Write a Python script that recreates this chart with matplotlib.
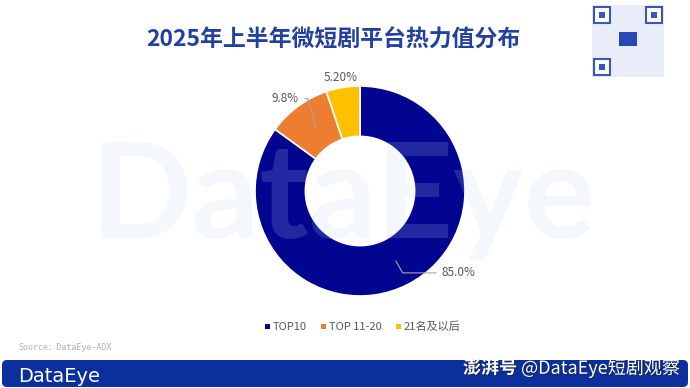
import numpy as np
import matplotlib.pyplot as plt
import matplotlib.patheffects as pe
from matplotlib.patches import FancyBboxPatch, Rectangle

plt.rcParams['font.family'] = ['Noto Sans CJK SC', 'DejaVu Sans']

# data
categories = ["TOP10", "TOP 11-20", "21名及以后"]
values = [85.0, 9.8, 5.2]
value_labels = ["85.0%", "9.8%", "5.20%"]
colors = ["#02058f", "#ed7d31", "#ffc000"]

title = "2025年上半年微短剧平台热力值分布"
source = "Source：DataEye-ADX"
footer_brand = "澎湃号"
footer_right = " @DataEye短剧观察"

W, H = 690, 388
fig = plt.figure(figsize=(W / 100, H / 100), dpi=100)
fig.patch.set_facecolor("white")

# background layer in pixel coordinates
bg = fig.add_axes([0, 0, 1, 1])
bg.set_xlim(0, W)
bg.set_ylim(H, 0)
bg.axis("off")

# title
bg.text(333, 40, title, fontsize=16.5, fontweight="bold", color="#2340a0",
        ha="center", va="center")

# QR placeholder
bg.add_patch(Rectangle((592, 5), 72, 72, facecolor="#e8edf9", edgecolor="none"))
for (qx, qy) in [(594, 7), (646, 7), (594, 59)]:
    bg.add_patch(Rectangle((qx, qy), 16, 16, facecolor="white", edgecolor="#3a56bd", lw=1.5))
    bg.add_patch(Rectangle((qx + 5, qy + 5), 6, 6, facecolor="#3a56bd", edgecolor="none"))
bg.add_patch(Rectangle((619, 32), 18, 14, facecolor="#2948b5", edgecolor="none"))

# source
bg.text(18, 348, source, fontsize=6, color="#b0b0b0", ha="left", va="center",
        family=["DejaVu Sans Mono", "Noto Sans CJK SC"])

# footer banner
bg.add_patch(FancyBboxPatch((2, 360), 686, 27, boxstyle="round,pad=0,rounding_size=5",
                            facecolor="#0b2f9c", edgecolor="none"))
bg.text(18, 376, "DataEye", fontsize=14, color="white", ha="left", va="center",
        family="DejaVu Sans")
shadow = [pe.withSimplePatchShadow(offset=(0.8, -0.8), shadow_rgbFace="#222222", alpha=0.6)]
t1 = bg.text(680, 368, footer_right, fontsize=13, color="white", ha="right", va="center",
             path_effects=shadow)
fig.canvas.draw()
x_right = bg.transData.inverted().transform(t1.get_window_extent().min)[0]
bg.text(x_right, 368, footer_brand, fontsize=13, color="white", ha="right", va="center",
        fontweight="bold", fontstyle="italic", path_effects=shadow)

# legend
lx = 265
for cat, col in zip(categories, colors):
    bg.add_patch(Rectangle((lx, 324), 5, 5, facecolor=col, edgecolor="none"))
    t = bg.text(lx + 8, 327, cat, fontsize=8, color="#595959", ha="left", va="center")
    fig.canvas.draw()
    bb = t.get_window_extent()
    lx = lx + 8 + bb.width + 14

# donut
ax = fig.add_axes([255 / W, 1 - 296 / H, 210 / W, 210 / H])
wedges, _ = ax.pie(values, colors=colors, startangle=90, counterclock=False,
                   wedgeprops=dict(width=0.48, edgecolor="white", linewidth=1.2))
ax.set_xlim(-1, 1)
ax.set_ylim(-1, 1)
ax.set_aspect("equal")

for i, w in enumerate(wedges):
    mid = np.deg2rad((w.theta1 + w.theta2) / 2)
    c, s = np.cos(mid), np.sin(mid)
    if i == 0:
        ax.annotate(value_labels[i], xy=(0.72 * c, 0.72 * s), xytext=(0.78, -0.78),
                    fontsize=8.5, color="#595959", ha="left", va="center",
                    arrowprops=dict(arrowstyle="-", color="#a6a6a6", lw=0.8,
                                    connectionstyle="angle,angleA=0,angleB=-60,rad=0"),
                    annotation_clip=False)
    elif i == 1:
        ax.annotate(value_labels[i], xy=(0.7 * c, 0.72 * s), xytext=(-0.58, 0.88),
                    fontsize=8.5, color="#595959", ha="right", va="center",
                    arrowprops=dict(arrowstyle="-", color="#a6a6a6", lw=0.8,
                                    connectionstyle="angle,angleA=0,angleB=-75,rad=0"),
                    annotation_clip=False)
    else:
        ax.text(1.12 * c, 1.1 * s, value_labels[i], fontsize=8.5, color="#595959",
                ha="center", va="center")

# translucent watermark drawn over everything
top = fig.add_axes([0, 0, 1, 1])
top.set_xlim(0, W)
top.set_ylim(H, 0)
top.axis("off")
top.patch.set_alpha(0)
top.text(343, 238, "DataEye", fontsize=96, fontweight="bold", color=(0.75, 0.85, 0.96),
         alpha=0.17, ha="center", va="baseline", family="Lato")

fig.savefig("out.png", dpi=100)
